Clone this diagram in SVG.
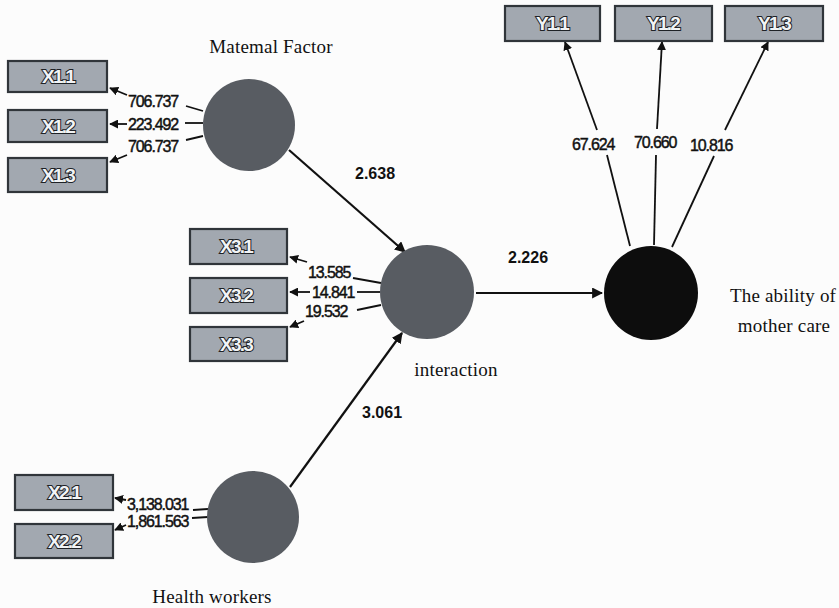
<svg xmlns="http://www.w3.org/2000/svg" width="839" height="608" viewBox="0 0 839 608">
<defs>
<marker id="ah" viewBox="0 0 10 10" refX="9" refY="5" markerWidth="9" markerHeight="9" orient="auto" markerUnits="userSpaceOnUse">
<path d="M0,0 L10,5 L0,10 z" fill="#111"/>
</marker>
<marker id="ahs" viewBox="0 0 10 10" refX="9" refY="5" markerWidth="11" markerHeight="11" orient="auto" markerUnits="userSpaceOnUse">
<path d="M0,0 L10,5 L0,10 z" fill="#111"/>
</marker>
</defs>
<style>
.box{fill:#a2a8b0;stroke:#30353a;stroke-width:2.2}
.bt{font-family:"Liberation Sans",Arial,sans-serif;font-weight:bold;font-size:19px;fill:#f2f4f6;stroke:#1e2226;stroke-width:2;paint-order:stroke;text-anchor:middle;letter-spacing:-1.8px}
.lat{fill:#585c62}
.num{font-family:"Liberation Sans",Arial,sans-serif;font-size:16px;fill:#111;letter-spacing:-1.1px;stroke:#111;stroke-width:0.45}
.path{font-family:"Liberation Sans",Arial,sans-serif;font-size:16px;font-weight:bold;fill:#111}
.nm{font-family:"Liberation Serif","Times New Roman",serif;font-size:19px;fill:#111;letter-spacing:0.2px}
.ln{stroke:#111;stroke-width:1.8;fill:none}
.mln{stroke:#111;stroke-width:2.2;fill:none}
</style>
<rect width="839" height="608" fill="#fcfcfc"/>

<g id="connectors">
<line class="mln" x1="289" y1="150" x2="405" y2="252" marker-end="url(#ahs)"/>
<line class="mln" x1="476" y1="293" x2="602" y2="293" marker-end="url(#ahs)"/>
<line class="mln" x1="290" y1="487" x2="402" y2="333" marker-end="url(#ahs)"/>
<line class="ln" x1="203" y1="111" x2="186" y2="106"/>
<line class="ln" x1="127" y1="95" x2="110" y2="88" marker-end="url(#ah)"/>
<line class="ln" x1="203" y1="123" x2="185" y2="123"/>
<line class="ln" x1="127" y1="124" x2="110" y2="124" marker-end="url(#ah)"/>
<line class="ln" x1="203" y1="136" x2="186" y2="140"/>
<line class="ln" x1="127" y1="155" x2="110" y2="162" marker-end="url(#ah)"/>
<line class="ln" x1="381" y1="283" x2="353" y2="278"/>
<line class="ln" x1="307" y1="262" x2="290" y2="257" marker-end="url(#ah)"/>
<line class="ln" x1="380" y1="292" x2="357" y2="292"/>
<line class="ln" x1="310" y1="292" x2="290" y2="292" marker-end="url(#ah)"/>
<line class="ln" x1="381" y1="305" x2="357" y2="310"/>
<line class="ln" x1="304" y1="321" x2="290" y2="327" marker-end="url(#ah)"/>
<line class="ln" x1="208" y1="509" x2="193" y2="510"/>
<line class="ln" x1="126" y1="500" x2="115" y2="498" marker-end="url(#ah)"/>
<line class="ln" x1="208" y1="517" x2="192" y2="518"/>
<line class="ln" x1="126" y1="525" x2="115" y2="530" marker-end="url(#ah)"/>
<line class="ln" x1="630" y1="246" x2="607" y2="155"/>
<line class="ln" x1="597" y1="130" x2="565" y2="42" marker-end="url(#ah)"/>
<line class="ln" x1="654" y1="245" x2="656" y2="155"/>
<line class="ln" x1="657" y1="129" x2="662" y2="42" marker-end="url(#ah)"/>
<line class="ln" x1="672" y1="247" x2="714" y2="156"/>
<line class="ln" x1="725" y1="130" x2="768" y2="42" marker-end="url(#ah)"/>
<text class="num" x="128" y="107">706.737</text>
<text class="num" x="128" y="130">223.492</text>
<text class="num" x="128" y="152">706.737</text>
<text class="num" x="308" y="278">13.585</text>
<text class="num" x="312" y="298">14.841</text>
<text class="num" x="305" y="317">19.532</text>
<text class="num" x="127" y="510">3,138.031</text>
<text class="num" x="127" y="527">1,861.563</text>
<text class="num" x="572" y="150">67.624</text>
<text class="num" x="634" y="148">70.660</text>
<text class="num" x="690" y="151">10.816</text>
<text class="path" x="355" y="179">2.638</text>
<text class="path" x="508" y="263">2.226</text>
<text class="path" x="362" y="418">3.061</text>
</g>

<g id="X1.1"><rect class="box" x="8" y="61" width="99" height="31"/><text class="bt" x="58" y="83">X1.1</text></g>
<g id="X1.2"><rect class="box" x="8" y="110" width="99" height="32"/><text class="bt" x="58" y="133">X1.2</text></g>
<g id="X1.3"><rect class="box" x="8" y="158" width="99" height="34"/><text class="bt" x="58" y="182">X1.3</text></g>
<g id="X3.1"><rect class="box" x="190" y="229" width="97" height="35"/><text class="bt" x="236" y="253">X3.1</text></g>
<g id="X3.2"><rect class="box" x="190" y="278" width="97" height="35"/><text class="bt" x="236" y="302">X3.2</text></g>
<g id="X3.3"><rect class="box" x="190" y="327" width="97" height="34"/><text class="bt" x="236" y="351">X3.3</text></g>
<g id="X2.1"><rect class="box" x="15" y="475" width="98" height="35"/><text class="bt" x="64" y="499">X2.1</text></g>
<g id="X2.2"><rect class="box" x="15" y="524" width="98" height="34"/><text class="bt" x="64" y="548">X2.2</text></g>
<g id="Y1.1"><rect class="box" x="505" y="6" width="95" height="35"/><text class="bt" x="552" y="30">Y1.1</text></g>
<g id="Y1.2"><rect class="box" x="615" y="6" width="97" height="35"/><text class="bt" x="663" y="30">Y1.2</text></g>
<g id="Y1.3"><rect class="box" x="725" y="6" width="98" height="35"/><text class="bt" x="774" y="30">Y1.3</text></g>

<g id="maternal"><circle class="lat" cx="249" cy="125" r="46"/><text class="nm" x="271" y="53" text-anchor="middle">Matemal Factor</text></g>
<g id="interaction"><circle class="lat" cx="427" cy="292" r="47"/><text class="nm" x="456" y="376" text-anchor="middle">interaction</text></g>
<g id="health"><circle class="lat" cx="253" cy="517" r="46"/><text class="nm" x="212" y="603" text-anchor="middle">Health workers</text></g>
<g id="ability"><circle cx="651" cy="293" r="47" fill="#0d0d0d"/><text class="nm" x="783" y="302" text-anchor="middle">The ability of</text><text class="nm" x="784" y="332" text-anchor="middle">mother care</text></g>
</svg>
